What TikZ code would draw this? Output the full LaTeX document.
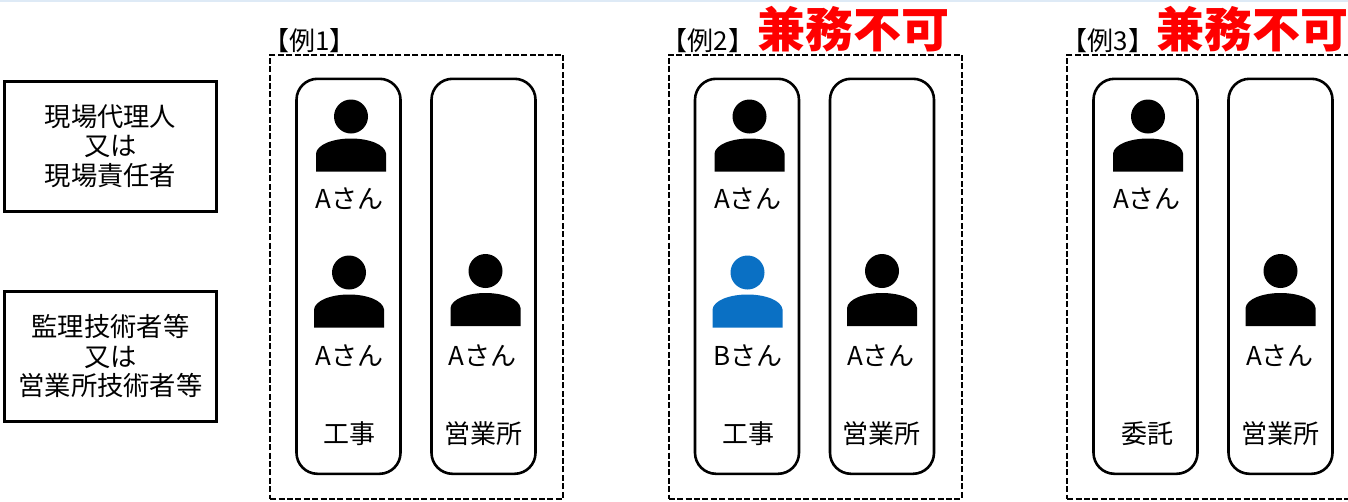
\documentclass[tikz,border=0pt]{standalone}
\usepackage{fontspec}
\setmainfont{Noto Sans CJK JP}
\definecolor{bandblue}{HTML}{DEEAF6}
\definecolor{personblue}{HTML}{0A70C4}
\tikzset{
    rolebox/.style={draw,line width=3pt,minimum width=212pt,minimum height=130pt,align=center,inner sep=0pt,font=\fontsize{26.3}{29.5}\selectfont},
    framebox/.style={draw,line width=2.1pt,dash pattern=on 6pt off 2.4pt,minimum width=293pt,minimum height=444pt,inner sep=0pt},
    colbox/.style={draw,line width=2.6pt,rounded corners=21pt,minimum width=104pt,minimum height=395pt,inner sep=0pt},
    lbl/.style={inner sep=0pt,font=\fontsize{26}{30}\selectfont},
    ngmark/.style={inner sep=0pt,text=red,font=\fontsize{48}{50}\bfseries\selectfont},
    pics/person/.style={code={
        \fill[#1] (0,0) circle (17);
        \fill[#1] (-35,55) -- (-35,37) .. controls (-34,28) and (-18,22) .. (0,22) .. controls (18,22) and (34,28) .. (35,37) -- (35,55) -- cycle;
    }},
}
\begin{document}
\begin{tikzpicture}[x=1pt,y=-1pt]
        \useasboundingbox (0,0) rectangle (1348,501);
        \fill[bandblue] (0,0) rectangle (1348,2);

        \node[rolebox] (roleA) at (110.5,146) {現場代理人\\又は\\現場責任者};
        \node[rolebox] (roleB) at (110.5,356) {監理技術者等\\又は\\営業所技術者等};

        \foreach \n/\fx/\tx in {1/269.2/309.5,2/667.7/708,3/1066.2/1108}
            {
                \node[framebox,anchor=north west] (frame\n) at (\fx,53.5) {};
                \node[lbl] (title\n) at (\tx,41) {【例\n】};
                \node[colbox,anchor=north west] (work\n) at (\fx+26,77.5) {};
                \node[colbox,anchor=north west] (office\n) at (\fx+161,77.5) {};
            }

        \node[ngmark] (ngB) at (853.5,29) {兼務不可};
        \node[ngmark] (ngC) at (1252,29) {兼務不可};

        \pic at (351,116.5) {person=black};
        \pic at (349,272.5) {person=black};
        \pic at (485.5,271) {person=black};
        \pic at (749.5,116.5) {person=black};
        \pic at (747.5,272.5) {person=personblue};
        \pic at (882,271) {person=black};
        \pic at (1148,116.5) {person=black};
        \pic at (1280.5,271) {person=black};

        \node[lbl] (nameA) at (349.5,199) {Aさん};
        \node[lbl] (nameB) at (349.5,356) {Aさん};
        \node[lbl] (nameC) at (482.5,356) {Aさん};
        \node[lbl] (nameD) at (748,199) {Aさん};
        \node[lbl] (nameE) at (748,356) {Bさん};
        \node[lbl] (nameF) at (881,356) {Aさん};
        \node[lbl] (nameG) at (1147,199) {Aさん};
        \node[lbl] (nameH) at (1280,356) {Aさん};

        \node[lbl] (siteA) at (349.5,434) {工事};
        \node[lbl] (deskA) at (483,434) {営業所};
        \node[lbl] (siteB) at (748.5,434) {工事};
        \node[lbl] (deskB) at (881.5,434) {営業所};
        \node[lbl] (siteC) at (1147,434) {委託};
        \node[lbl] (deskC) at (1280,434) {営業所};
    \end{tikzpicture}
\end{document}
